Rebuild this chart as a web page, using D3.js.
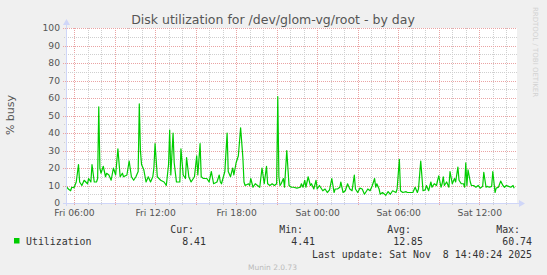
<!DOCTYPE html>
<html>
<head>
<meta charset="utf-8">
<script src="https://cdn.jsdelivr.net/npm/d3@7"></script>
<style>
  html, body { margin: 0; padding: 0; background: #F0F0F0; }
  svg { display: block; }
  text { white-space: pre; }
</style>
</head>
<body>
<div id="chart"></div>
<script>
// ---- data ----
const title = "Disk utilization for /dev/glom-vg/root - by day";
const yAxisLabel = "% busy";
const seriesName = "Utilization";
// minutes relative to Fri 06:00 (Nov 7 2025)
const minutes = [-35,-25,-15,-10,0,10,20,25,35,45,60,65,75,80,90,100,105,110,115,120,130,140,145,155,165,175,185,195,205,215,220,235,245,255,265,275,285,290,295,300,310,320,330,340,350,355,360,370,385,400,410,420,425,430,440,445,455,470,475,485,495,500,510,520,535,545,550,560,565,575,590,600,610,620,635,645,650,655,670,680,685,695,705,710,720,730,740,750,755,760,775,780,785,795,805,815,825,835,845,855,860,870,880,890,900,905,910,915,920,930,935,945,955,965,975,990,1005,1010,1017,1025,1030,1040,1050,1055,1065,1075,1080,1090,1105,1115,1125,1135,1145,1155,1160,1170,1181,1185,1195,1205,1215,1225,1235,1245,1250,1260,1270,1280,1290,1295,1305,1315,1325,1335,1340,1345,1355,1360,1370,1385,1395,1405,1415,1430,1435,1445,1450,1460,1475,1480,1490,1505,1515,1525,1530,1540,1550,1560,1565,1575,1585,1590,1600,1610,1615,1620,1630,1635,1640,1645,1655,1665,1670,1680,1690,1695,1705,1710,1720,1730,1735,1740,1745,1750,1760,1765,1775,1785,1795,1805,1815,1820,1830,1835,1845,1855,1860,1870,1875,1885,1895,1905,1912,1920,1930,1940,1950,1955];
const utilization = [9.5,8,7,9,8.7,12,22,12,10,13,11,14,12,22,12,12,14,55,20,17,21,15,17,16,13,20,16,31,15,17,15,16,24,15,13,15,18,56.6,30,22,19,12,15,12,15,20,34,15,13,12,10,22,41.7,16,40,23,12,12,31,16,14,26,15,12,15,27,16,34,15,14,14,12,18,11,12,16,12,11,18,40,18,15,20,16,23,27,43,26,12,10,11,10,14,9,11,10,9,20,11,21,11,10,11,10,11,60.74,15,10,11,14,9,30,10,9,9,8.5,9,11,9,13,9,15,10,11,8,13,8,10,7,8,6,7.5,14,6,8,8,9,12,6,7,11,8,7,16,8,6,8.5,8,5,6,8,7,10,14,9,11,8,5,6,4.41,6.5,5,7,6,8,25,7,6,6.5,6,6,6,9,6,8,24,7,7.5,10,7,12,9,11,10,13,15.5,9,11,15,10,12,9,18,11,14,12,20.5,13,11,11,9,23,10,19,12,10,10,9,10,8.5,9.5,17.5,9,9.5,9,9.5,18,6,8.5,9,12.5,10,9,10,9.5,9,10,8.41];
const yTicks = [0,10,20,30,40,50,60,70,80,90,100];
const xTickLabels = ["Fri 06:00","Fri 12:00","Fri 18:00","Sat 00:00","Sat 06:00","Sat 12:00"];
const statHeaders = ["Cur:","Min:","Avg:","Max:"];
const statValues = ["8.41","4.41","12.85","60.74"];
const lastUpdate = "Last update: Sat Nov  8 14:40:24 2025";
const footer = "Munin 2.0.73";
const watermark = "RRDTOOL / TOBI OETIKER";

// ---- layout ----
const W = 547, H = 275;
const pL = 66, pR = 517, pT = 28, pB = 203;
const base = new Date(2025, 10, 7, 6, 0, 0);
const t0 = new Date(2025, 10, 7, 5, 24, 30);
const t1 = new Date(2025, 10, 8, 14, 47, 30);

const svg = d3.select("#chart").append("svg").attr("width", W).attr("height", H);
svg.append("rect").attr("width", W).attr("height", H).attr("fill", "#F0F0F0");

const x = d3.scaleTime().domain([t0, t1]).range([pL, pR]);
const y = d3.scaleLinear().domain([0, 100]).range([pB, pT]);

// canvas
svg.append("rect").attr("x", pL).attr("y", pT).attr("width", pR - pL).attr("height", pB - pT).attr("fill", "#FFFFFF");

const font = "'DejaVu Sans', sans-serif";
const mono = "'DejaVu Sans Mono', monospace";
const textCol = "#555555";

// grid
const g = svg.append("g");
const minorCol = "#CFCFCF", majorCol = "#EAA3A3";
const hours = d3.timeHour.range(d3.timeHour.ceil(t0), t1);
hours.forEach(h => {
  const major = h.getHours() % 3 === 0;
  g.append("line").attr("x1", Math.round(x(h)) + 0.5).attr("x2", Math.round(x(h)) + 0.5).attr("y1", pT).attr("y2", pB + (major ? 3 : 2))
    .attr("stroke", major ? majorCol : minorCol).attr("stroke-width", 1).attr("stroke-dasharray", "1,1");
});
d3.range(0, 101, 5).forEach(v => {
  const major = v % 10 === 0;
  g.append("line").attr("x1", pL - (major ? 3 : 2)).attr("x2", pR).attr("y1", Math.round(y(v)) + 0.5).attr("y2", Math.round(y(v)) + 0.5)
    .attr("stroke", major ? majorCol : minorCol).attr("stroke-width", 1).attr("stroke-dasharray", "1,1");
});

// data line
const data = minutes.map((m, i) => ({ t: new Date(base.getTime() + m * 60000), v: utilization[i] }));
const line = d3.line().x(d => x(d.t)).y(d => y(d.v));
svg.append("path").datum(data).attr("d", line).attr("fill", "none").attr("stroke", "#00CC00").attr("stroke-width", 1.2)
  .attr("stroke-linejoin", "round");

// axes lines + arrows
const axisCol = "#CFD6F8";
svg.append("line").attr("x1", pL + 0.5).attr("x2", pL + 0.5).attr("y1", pB + 3).attr("y2", pT - 6).attr("stroke", axisCol);
svg.append("line").attr("x1", pL - 3).attr("x2", pR + 3).attr("y1", pB + 0.5).attr("y2", pB + 0.5).attr("stroke", axisCol);
svg.append("path").attr("d", `M${pL - 3},${pT - 3} L${pL + 4},${pT - 3} L${pL + 0.5},${pT - 9} Z`).attr("fill", axisCol);
svg.append("path").attr("d", `M${pR + 2},${pB - 3} L${pR + 2},${pB + 4} L${pR + 8},${pB + 0.5} Z`).attr("fill", axisCol);

// y axis labels via d3 axis
const yAxis = d3.axisLeft(y).tickValues(yTicks).tickSize(0).tickPadding(6).tickFormat(d3.format("d"));
const ya = svg.append("g").attr("transform", `translate(${pL},0)`).call(yAxis);
ya.select(".domain").remove();
ya.selectAll("text").attr("font-family", font).attr("font-size", "9.2px").attr("fill", textCol);

// x axis labels via d3 axis
const labelTimes = xTickLabels.map((s, i) => d3.timeHour.offset(base, i * 6));
const xAxis = d3.axisBottom(x).tickValues(labelTimes).tickSize(0).tickPadding(6).tickFormat((d, i) => xTickLabels[i]);
const xa = svg.append("g").attr("transform", `translate(0,${pB})`).call(xAxis);
xa.select(".domain").remove();
xa.selectAll("text").attr("font-family", font).attr("font-size", "9.2px").attr("fill", textCol).attr("dy", "0.78em");

// title
svg.append("text").attr("x", 273).attr("y", 23.5).attr("text-anchor", "middle")
  .attr("font-family", font).attr("font-size", "12.5px").attr("fill", textCol).text(title);

// y label
svg.append("text").attr("transform", "translate(14,115) rotate(-90)").attr("text-anchor", "middle")
  .attr("font-family", font).attr("font-size", "11px").attr("fill", textCol).text(yAxisLabel);

// watermark
svg.append("text").attr("transform", "translate(533,52) rotate(90)").attr("text-anchor", "middle")
  .attr("font-family", font).attr("font-size", "7px").attr("fill", "#D2D2D2").text(watermark);

// legend
svg.append("rect").attr("x", 14).attr("y", 238).attr("width", 5.5).attr("height", 5.5).attr("fill", "#00CC00");
svg.append("text").attr("x", 26).attr("y", 244.5).attr("font-family", mono).attr("font-size", "9.9px").attr("fill", "#333").text(seriesName);
const headEnds = [194, 303, 411, 520];
const valEnds = [206, 315, 423, 532];
statHeaders.forEach((h, i) => {
  svg.append("text").attr("x", headEnds[i]).attr("y", 232.5).attr("text-anchor", "end")
    .attr("font-family", mono).attr("font-size", "9.9px").attr("fill", "#333").text(h);
  svg.append("text").attr("x", valEnds[i]).attr("y", 244.5).attr("text-anchor", "end")
    .attr("font-family", mono).attr("font-size", "9.9px").attr("fill", "#333").text(statValues[i]);
});
svg.append("text").attr("x", 532).attr("y", 257.5).attr("text-anchor", "end")
  .attr("font-family", mono).attr("font-size", "9.9px").attr("fill", "#333").text(lastUpdate);
svg.append("text").attr("x", 272.5).attr("y", 270).attr("text-anchor", "middle")
  .attr("font-family", font).attr("font-size", "7.5px").attr("fill", "#BBBBBB").text(footer);
</script>
</body>
</html>
